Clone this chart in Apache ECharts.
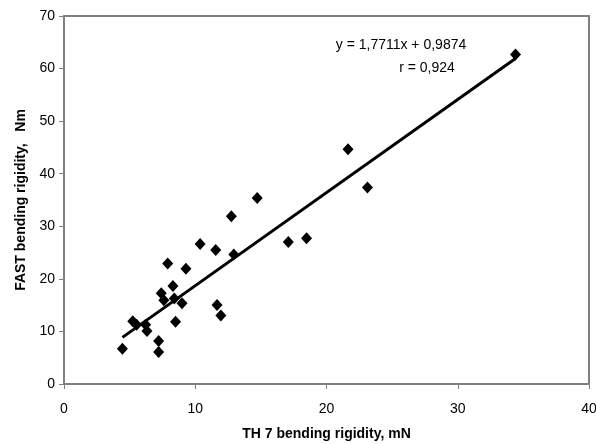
<!DOCTYPE html>
<html>
<head>
<meta charset="utf-8">
<script src="https://cdn.jsdelivr.net/npm/echarts@6/dist/echarts.min.js"></script>
<style>
  html, body { margin: 0; padding: 0; background: #fff; }
  #chart { width: 596px; height: 444px; }
</style>
</head>
<body>
<div id="chart"></div>
<script>
// TH 7 (mN) vs FAST (Nm) bending rigidity
const thValues = [4.45, 5.24, 5.53, 6.22, 6.32, 7.21, 7.21, 7.41, 7.61, 7.9, 8.3, 8.4, 8.5, 8.99, 9.29,
  10.37, 11.56, 11.66, 11.95, 12.75, 12.94, 14.72, 17.09, 18.48, 21.64, 23.12, 34.4];
const fastValues = [6.7, 11.95, 11.26, 11.26, 10.06, 8.17, 6.07, 17.24, 15.94, 22.9, 18.63, 16.24, 11.86, 15.34, 21.93,
  26.61, 25.51, 15.05, 13.05, 31.9, 24.62, 35.38, 27.01, 27.71, 44.66, 37.38, 62.7];

// trend line y = 1,7711x + 0,9874
const slope = 1.7711;
const intercept = 0.9874;
const fitRange = [4.45, 34.4];

const points = thValues.map((x, i) => [x, fastValues[i]]);
const fitLine = fitRange.map(x => [x, slope * x + intercept]);

const chart = echarts.init(document.getElementById('chart'));
const font = 'Liberation Sans, Arial, sans-serif';

chart.setOption({
  animation: false,
  grid: {
    left: 64, top: 16, right: 7, bottom: 60,
    outerBoundsMode: 'none',
    show: true, borderColor: '#808080', borderWidth: 2
  },
  xAxis: {
    type: 'value', min: 0, max: 40, interval: 10,
    name: 'TH 7 bending rigidity, mN',
    nameLocation: 'middle', nameGap: 43,
    nameTextStyle: { fontFamily: font, fontSize: 14, fontWeight: 'bold', color: '#000' },
    axisLine: { lineStyle: { color: '#808080', width: 2 } },
    axisTick: { lineStyle: { color: '#808080' }, length: 5 },
    axisLabel: { fontFamily: font, fontSize: 14, color: '#000', margin: 18 },
    splitLine: { show: false }
  },
  yAxis: {
    type: 'value', min: 0, max: 70, interval: 10,
    name: 'FAST bending rigidity,   Nm',
    nameLocation: 'middle', nameGap: 36,
    nameTextStyle: { fontFamily: font, fontSize: 14, fontWeight: 'bold', color: '#000' },
    axisLine: { show: true, lineStyle: { color: '#808080', width: 2 } },
    axisTick: { show: true, lineStyle: { color: '#808080' }, length: 5 },
    axisLabel: { fontFamily: font, fontSize: 14, color: '#000', margin: 9 },
    splitLine: { show: false }
  },
  series: [
    {
      type: 'line',
      data: fitLine,
      symbol: 'none',
      lineStyle: { color: '#000', width: 3 },
      z: 2
    },
    {
      type: 'scatter',
      data: points,
      symbol: 'diamond',
      symbolSize: [11, 12],
      itemStyle: { color: '#000', opacity: 1 },
      z: 3
    }
  ],
  graphic: [
    {
      type: 'text', x: 401, y: 45,
      style: { text: 'y = 1,7711x + 0,9874', align: 'center', verticalAlign: 'middle',
        font: '14px ' + font, fill: '#000' }
    },
    {
      type: 'text', x: 427, y: 68,
      style: { text: 'r = 0,924', align: 'center', verticalAlign: 'middle',
        font: '14px ' + font, fill: '#000' }
    }
  ]
});
</script>
</body>
</html>
